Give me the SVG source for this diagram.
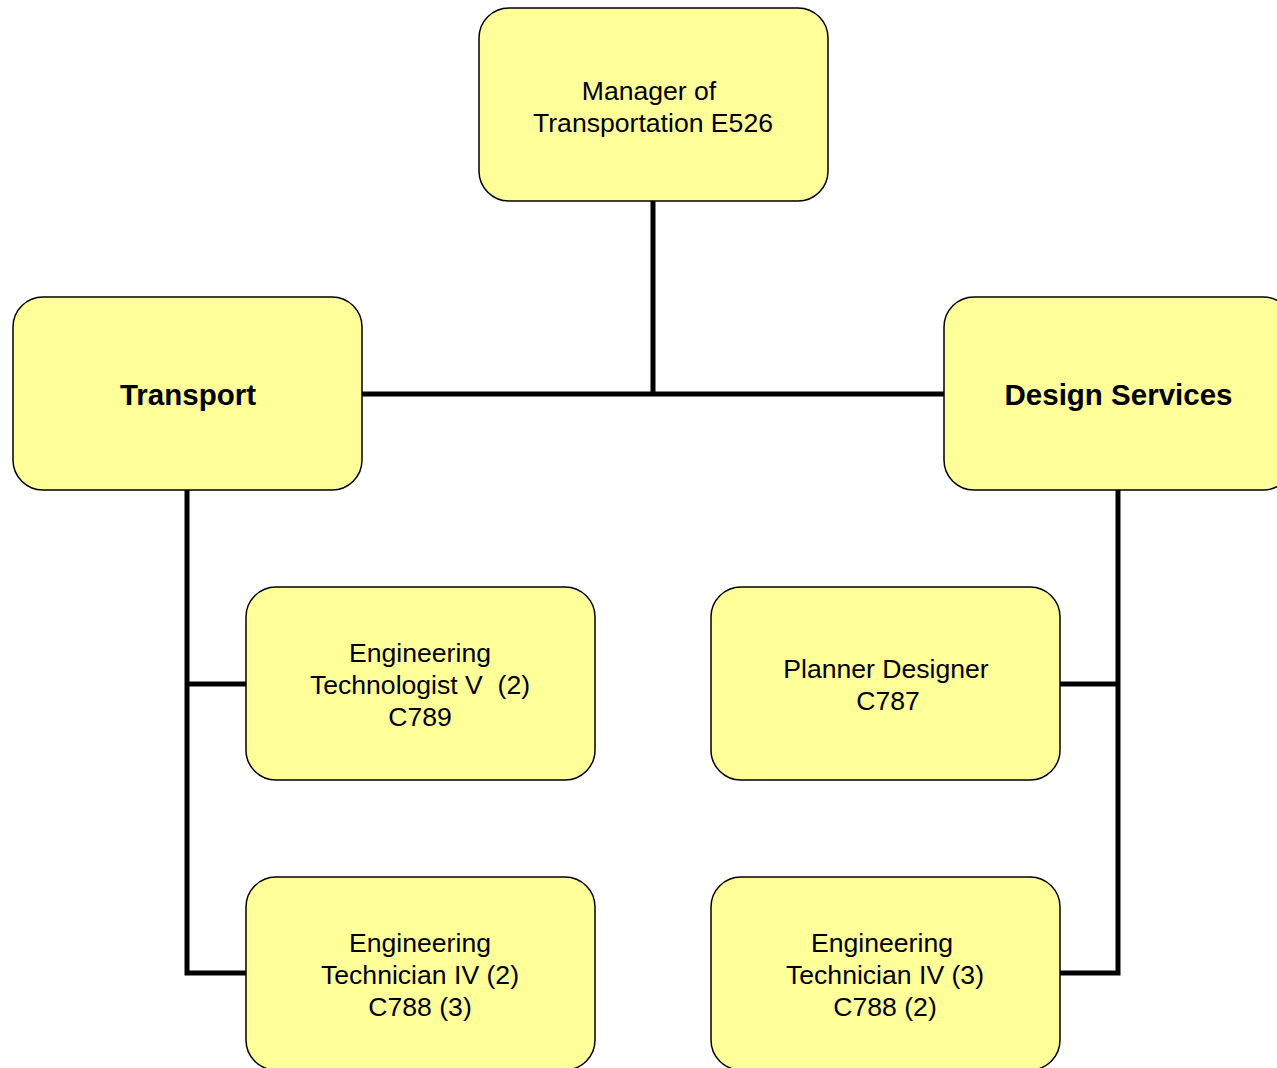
<svg xmlns="http://www.w3.org/2000/svg" width="1277" height="1068" viewBox="0 0 1277 1068">
<style>
.box{fill:#FFFF99;stroke:#000;stroke-width:1.5}
.t{font-family:"Liberation Sans",Arial,sans-serif;font-size:26.6px;fill:#000;text-anchor:middle}
.b{font-family:"Liberation Sans",Arial,sans-serif;font-size:29.5px;font-weight:bold;fill:#000;text-anchor:middle}
.c{fill:none;stroke:#000;stroke-width:5;stroke-linejoin:miter}
</style>
<rect width="1277" height="1068" fill="#fff"/>
<g id="connectors">
<path class="c" d="M653 201 V394"/>
<path class="c" d="M362 394 H944"/>
<path class="c" d="M187 490 V973 H246"/>
<path class="c" d="M187 684 H246"/>
<path class="c" d="M1118 490 V973 H1060"/>
<path class="c" d="M1118 684 H1060"/>
</g>
<g id="manager">
<rect class="box" x="479" y="8" width="349" height="193" rx="30"/>
<text class="t" x="649" y="100">Manager of</text>
<text class="t" x="653" y="132">Transportation E526</text>
</g>
<g id="transport">
<rect class="box" x="13" y="297" width="349" height="193" rx="30"/>
<text class="b" x="188" y="405">Transport</text>
</g>
<g id="design-services">
<rect class="box" x="944" y="297" width="349" height="193" rx="30"/>
<text class="b" x="1118.5" y="405">Design Services</text>
</g>
<g id="eng-technologist">
<rect class="box" x="246" y="587" width="349" height="193" rx="30"/>
<text class="t" x="420" y="662">Engineering</text>
<text class="t" x="420" y="694" xml:space="preserve">Technologist V  (2)</text>
<text class="t" x="420" y="726">C789</text>
</g>
<g id="planner-designer">
<rect class="box" x="711" y="587" width="349" height="193" rx="30"/>
<text class="t" x="886" y="678">Planner Designer</text>
<text class="t" x="888" y="710">C787</text>
</g>
<g id="eng-technician-transport">
<rect class="box" x="246" y="877" width="349" height="193" rx="30"/>
<text class="t" x="420" y="952">Engineering</text>
<text class="t" x="420" y="984">Technician IV (2)</text>
<text class="t" x="420" y="1016">C788 (3)</text>
</g>
<g id="eng-technician-design">
<rect class="box" x="711" y="877" width="349" height="193" rx="30"/>
<text class="t" x="882" y="952">Engineering</text>
<text class="t" x="885" y="984">Technician IV (3)</text>
<text class="t" x="885" y="1016">C788 (2)</text>
</g>
</svg>
